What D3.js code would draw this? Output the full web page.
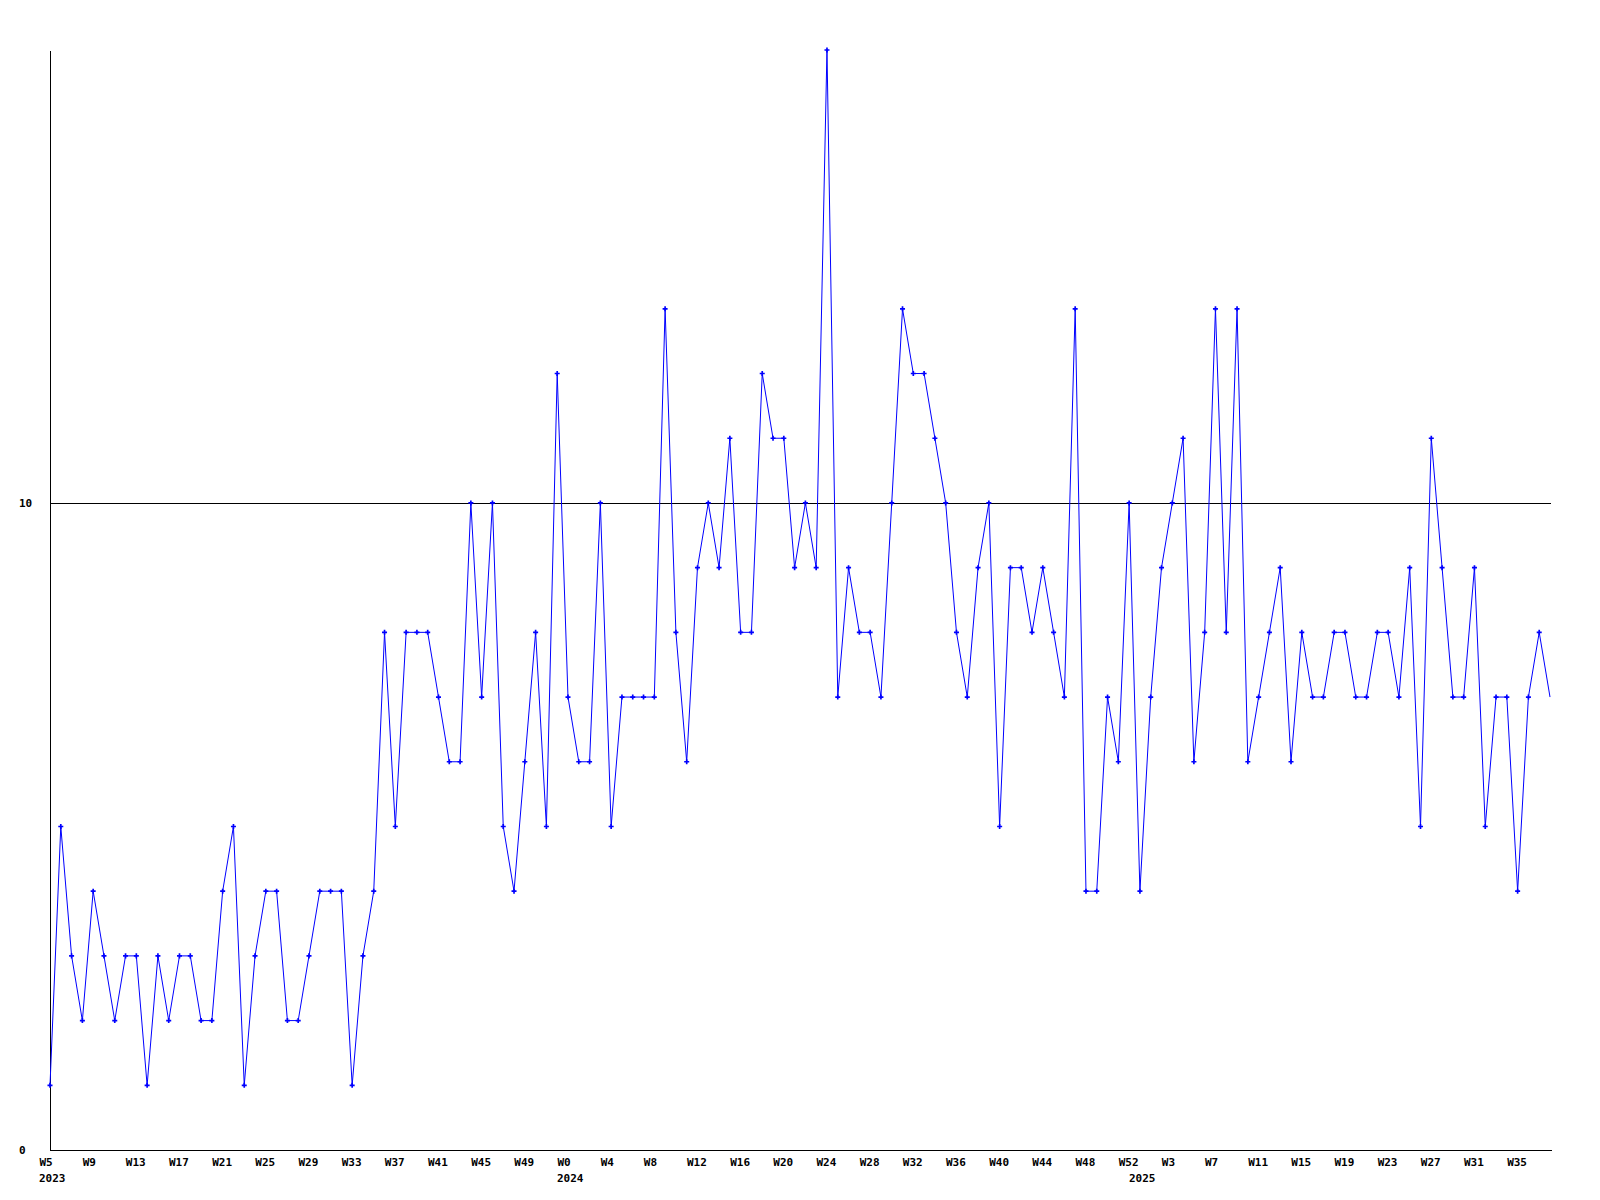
<!DOCTYPE html>
<html>
<head>
<meta charset="utf-8">
<script src="https://cdn.jsdelivr.net/npm/d3@7"></script>
<style>
  body { margin: 0; background: #fff; }
  text { font-family: "DejaVu Sans Mono", monospace; font-weight: bold; font-size: 11px; fill: #000; }
</style>
</head>
<body>
<div id="my_dataviz"></div>
<script>
// years shown on the axis and the week numbers each one covers (W0 style numbering)
var years = ["2023", "2024", "2025"]
var weekFrom = [5, 0, 0]
var weekTo = [52, 52, 39]

// one value per week
var counts = [
  1, 5, 3, 2, 4, 3, 2, 3, 3, 1,
  3, 2, 3, 3, 2, 2, 4, 5, 1, 3,
  4, 4, 2, 2, 3, 4, 4, 4, 1, 3,
  4, 8, 5, 8, 8, 8, 7, 6, 6, 10,
  7, 10, 5, 4, 6, 8, 5, 12, 7, 6,
  6, 10, 5, 7, 7, 7, 7, 13, 8, 6,
  9, 10, 9, 11, 8, 8, 12, 11, 11, 9,
  10, 9, 17, 7, 9, 8, 8, 7, 10, 13,
  12, 12, 11, 10, 8, 7, 9, 10, 5, 9,
  9, 8, 9, 8, 7, 13, 4, 4, 7, 6,
  10, 4, 7, 9, 10, 11, 6, 8, 13, 8,
  13, 6, 7, 8, 9, 6, 8, 7, 7, 8,
  8, 7, 7, 8, 8, 7, 9, 5, 11, 9,
  7, 7, 9, 5, 7, 7, 4, 7, 8, 7
]
var yTicks = [0, 10]
var yMax = 17

// build the week list
var weeks = []
years.forEach(function(yr, k) {
  for (var w = weekFrom[k]; w <= weekTo[k]; w++) {
    weeks.push({ year: yr, week: w, first: w === weekFrom[k] })
  }
})
var data = weeks.slice(0, counts.length).map(function(d, i) {
  return { i: i, year: d.year, week: d.week, first: d.first, value: counts[i] }
})

var margin = {top: 50, right: 50, bottom: 50, left: 50},
    width = 1600 - margin.left - margin.right,
    height = 1200 - margin.top - margin.bottom;

var svg = d3.select("#my_dataviz")
  .append("svg")
    .attr("width", 1600)
    .attr("height", 1200)
  .append("g")
    .attr("transform", "translate(" + margin.left + "," + margin.top + ")");

var x = d3.scaleLinear()
  .domain([0, data.length - 1])
  .range([0, width])

var y = d3.scaleLinear()
  .domain([0, yMax])
  .range([height, 0])

// horizontal rule at 10
svg.selectAll(".grid")
  .data(yTicks.filter(function(d) { return d > 0 }))
  .enter().append("line")
    .attr("class", "grid")
    .attr("x1", 0)
    .attr("x2", width + 1)
    .attr("y1", function(d) { return Math.round(y(d)) + 0.5 })
    .attr("y2", function(d) { return Math.round(y(d)) + 0.5 })
    .attr("stroke", "#000")
    .attr("shape-rendering", "crispEdges")

// Y axis
var yAxis = svg.append("g")
  .call(d3.axisLeft(y).tickValues(yTicks).tickSize(0).tickSizeOuter(0))
yAxis.attr("font-family", null).attr("font-size", null)
yAxis.select(".domain").attr("stroke", "#000").attr("shape-rendering", "crispEdges")
yAxis.selectAll("text")
  .attr("x", -31)
  .attr("dy", "0.35em")
  .style("text-anchor", "start")

// X axis, label every 4th week
var tickIdx = data.filter(function(d) { return d.i % 4 === 0 }).map(function(d) { return d.i })
var xAxis = svg.append("g")
  .attr("transform", "translate(0," + height + ")")
  .call(d3.axisBottom(x).tickValues(tickIdx).tickSize(0).tickSizeOuter(0)
    .tickFormat(function(i) { return "W" + data[i].week }))
xAxis.attr("font-family", null).attr("font-size", null)
xAxis.select(".domain").attr("stroke", "#000").attr("shape-rendering", "crispEdges")
  .attr("d", "M0.5,0.5H" + (width + 1.5))
xAxis.selectAll("text")
  .attr("x", -11)
  .attr("y", 16)
  .attr("dy", null)
  .style("text-anchor", "start")

// year labels under the first week of each year
svg.selectAll(".year")
  .data(data.filter(function(d) { return d.first }))
  .enter().append("text")
    .attr("class", "year")
    .attr("x", function(d) { return x(d.i) - 11 })
    .attr("y", height + 32)
    .style("text-anchor", "start")
    .text(function(d) { return d.year })

// the line
var line = d3.line()
  .x(function(d) { return x(d.i) })
  .y(function(d) { return y(d.value) })

svg.append("path")
  .datum(data)
  .attr("fill", "none")
  .attr("stroke", "#0000ff")
  .attr("stroke-width", 1)
  .attr("d", line)

// markers (the last week sits on the right edge and has none)
svg.selectAll(".dot")
  .data(data.slice(0, -1))
  .enter().append("path")
    .attr("class", "dot")
    .attr("transform", function(d) { return "translate(" + x(d.i) + "," + y(d.value) + ")" })
    .attr("d", d3.symbol(d3.symbolCross, 14))
    .attr("fill", "#0000ff")
</script>
</body>
</html>
